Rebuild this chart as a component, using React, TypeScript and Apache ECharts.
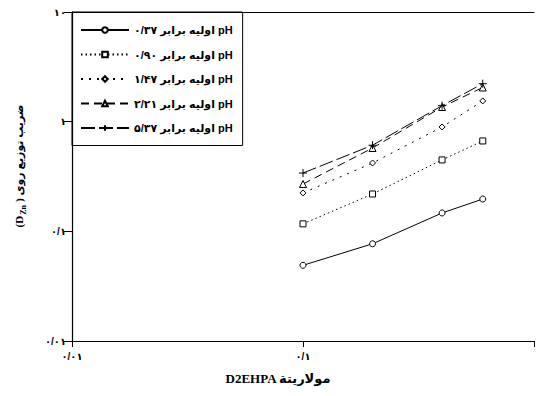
import React, { useEffect, useRef } from "react";
import * as echarts from "echarts";

// D2EHPA molarity (x) and distribution coefficient D_Zn (y)
const xValues = [0.1, 0.2, 0.4, 0.6];
const seriesNames = [
  "اولیه برابر ۰/۳۷ pH",
  "اولیه برابر ۰/۹۰ pH",
  "اولیه برابر ۱/۴۷ pH",
  "اولیه برابر ۲/۲۱ pH",
  "اولیه برابر ۵/۳۷ pH",
];
const ph037 = [0.049, 0.077, 0.147, 0.197];
const ph090 = [0.117, 0.219, 0.448, 0.667];
const ph147 = [0.224, 0.42, 0.895, 1.546];
const ph221 = [0.27, 0.575, 1.36, 2.05];
const ph537 = [0.34, 0.61, 1.4, 2.22];

const xTickValues = [0.01, 0.1, 1];
const xTickLabels = ["۰/۰۱", "۰/۱", ""];
const yTickValues = [0.01, 0.1, 1, 10];
const yTickLabels = ["۰/۰۱", "۰/۱", "۱", "۱۰"];

const xAxisTitle = "D2EHPA مولاریتة";
const yAxisTitle = "(D{sub|Zn}) ضریب توزیع روی";

function pick(values: number[], labels: string[], v: number) {
  const lv = Math.log10(v);
  for (let i = 0; i < values.length; i++) {
    if (Math.abs(Math.log10(values[i]) - lv) < 1e-6) return labels[i];
  }
  return "";
}

const FONT = "'Liberation Sans', 'DejaVu Sans', sans-serif";
const SERIF = "'Liberation Serif', 'DejaVu Sans', serif";

export default function App() {
  const ref = useRef<HTMLDivElement>(null);
  useEffect(() => {
    if (!ref.current) return;
    const chart = echarts.init(ref.current, undefined, { renderer: "svg" });
    const allY = [ph037, ph090, ph147, ph221, ph537];
    const symbols = [
      "circle",
      "rect",
      "diamond",
      "triangle",
      "path://M5,0 L5,10 M0,5 L10,5",
    ];
    const sizes = [6, 6, 6, 7, 8];
    const dashes: any[] = ["solid", [1.5, 3], [2, 6], [8, 5], [14, 4]];
    const series = allY.map((ys, i) => ({
      name: seriesNames[i],
      type: "line",
      data: xValues.map((x, j) => [x, ys[j]]),
      symbol: symbols[i],
      symbolSize: sizes[i],
      symbolKeepAspect: true,
      showAllSymbol: true,
      itemStyle: { color: "#fff", borderColor: "#000", borderWidth: 1 },
      lineStyle: { color: "#000", width: 1, type: dashes[i] },
      emphasis: { disabled: true },
      z: 2 + i,
    }));
    const axisLine = { onZero: false, lineStyle: { color: "#000", width: 1.2 } };
    chart.setOption({
      animation: false,
      grid: { left: 72, top: 12, width: 464, height: 329 },
      legend: {
        orient: "vertical",
        left: 72,
        top: 12,
        padding: [12.5, 10, 12, 8],
        itemWidth: 48,
        itemHeight: 7,
        itemGap: 13.5,
        borderColor: "#000",
        borderWidth: 1,
        textStyle: { fontSize: 11, fontWeight: "bold", color: "#000", fontFamily: FONT },
        data: seriesNames,
      },
      xAxis: [
        {
          type: "log",
          logBase: 10,
          min: 0.01,
          max: 1,
          position: "bottom",
          axisLine,
          axisTick: { length: 6, lineStyle: { color: "#000" } },
          axisLabel: {
            color: "#000",
            fontSize: 10,
            fontWeight: "bold",
            fontFamily: FONT,
            margin: 10,
            formatter: (v: number) => pick(xTickValues, xTickLabels, v),
          },
          splitLine: { show: false },
        },
        {
          type: "log",
          logBase: 10,
          min: 0.01,
          max: 1,
          position: "top",
          axisLine,
          axisTick: { show: false },
          axisLabel: { show: false },
          splitLine: { show: false },
        },
      ],
      yAxis: {
        type: "log",
        logBase: 10,
        min: 0.01,
        max: 10,
        axisLine,
        axisTick: { length: 8, lineStyle: { color: "#000" } },
        axisLabel: {
          color: "#000",
          fontSize: 10,
          fontWeight: "bold",
          fontFamily: FONT,
          margin: 6,
          formatter: (v: number) => pick(yTickValues, yTickLabels, v),
        },
        splitLine: { show: false },
      },
      graphic: [
        {
          type: "text",
          x: 278,
          y: 378,
          style: {
            text: xAxisTitle,
            align: "center",
            verticalAlign: "middle",
            fill: "#000",
            font: "bold 13px " + SERIF,
          },
        },
        {
          type: "text",
          x: 19,
          y: 166,
          rotation: Math.PI / 2,
          style: {
            text: yAxisTitle,
            align: "center",
            verticalAlign: "middle",
            fill: "#000",
            fontSize: 11,
            fontWeight: "bold",
            fontFamily: SERIF,
            rich: {
              sub: {
                fontSize: 8,
                fontWeight: "bold",
                fontFamily: SERIF,
                padding: [8, 3, 0, 1],
              },
            },
          },
        },
      ],
      series,
    });
    return () => chart.dispose();
  }, []);
  return (
    <div
      ref={ref}
      style={{ position: "absolute", left: 0, top: 0, width: 537, height: 396 }}
    />
  );
}
